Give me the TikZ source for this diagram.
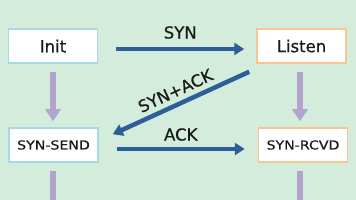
\documentclass[tikz,border=0pt]{standalone}
\usepackage{fontspec}
\setmainfont[FakeBold=0.6,BoldFont={DejaVu Sans}]{DejaVu Sans}
\newfontfamily\widefont[FakeStretch=1.15,FakeBold=0.6]{DejaVu Sans}
\newfontfamily\boldish[FakeBold=0.6]{DejaVu Sans}
\usetikzlibrary{arrows.meta,calc}
\definecolor{bgmint}{HTML}{D4ECDC}
\definecolor{arrblue}{HTML}{2E5E98}
\definecolor{arrpurple}{HTML}{B2A4CC}
\definecolor{bordcyan}{HTML}{A6D8E6}
\definecolor{bordorange}{HTML}{F8C490}
\definecolor{txt}{HTML}{1A1A1A}
\tikzset{
  statebox/.style={draw, fill=white, line width=1.5pt, minimum width=89pt, minimum height=34pt, inner sep=0pt, text=txt},
  cyanbox/.style={statebox, draw=bordcyan},
  orangebox/.style={statebox, draw=bordorange},
  bigtext/.style={font=\boldish\fontsize{16.5}{18}\selectfont},
  smalltext/.style={font=\widefont\fontsize{12.3}{14}\selectfont},
  bluearrow/.style={draw=arrblue, line width=4.5pt, -{Triangle[width=12pt,length=10pt]}},
  purplearrow/.style={draw=arrpurple, line width=6pt, -{Triangle[width=15pt,length=12pt]}},
  purpleline/.style={draw=arrpurple, line width=6pt},
  lbl/.style={font=\boldish\fontsize{16.5}{18}\selectfont, inner sep=0pt, text=txt}
}
\begin{document}
\begin{tikzpicture}[x=1pt,y=1pt]
\fill[bgmint] (0,0) rectangle (356,200);
\useasboundingbox (0,0) rectangle (356,200);
\node[cyanbox, bigtext] (init) at (53,154) {Init};
\node[orangebox, bigtext] (listen) at (301.5,154) {Listen};
\node[cyanbox, smalltext] (synsend) at (53.5,55) {SYN-SEND};
\node[orangebox, smalltext] (synrcvd) at (303,55) {SYN-RCVD};
% vertical arrows
\draw[purplearrow] ($(init.south)+(0,-8)$) -- ($(init.south |- synsend.north)+(0,6)$);
\draw[purplearrow] ($(listen.south)+(-1.5,-8)$) -- ($(listen.south |- synrcvd.north)+(-1.5,6)$);
\coordinate (lbot) at (53,0);
\coordinate (rbot) at (300,0);
\draw[purpleline] ($(synsend.south)+(-0.5,-8)$) -- (lbot);
\draw[purpleline] ($(synrcvd.south)+(-3,-8)$) -- (rbot);
% horizontal and diagonal arrows
\draw[bluearrow] ($(init.east)+(18,-3)$) -- node[lbl, above=8pt] (synl) {SYN} ($(listen.west)+(-12,-3)$);
\draw[bluearrow] ($(listen.south west)+(-7,-8)$) -- node[lbl, rotate=25, above=5pt, anchor=south] (synackl) {SYN+ACK} ($(synsend.north east)+(14,-7)$);
\draw[bluearrow] ($(synsend.east)+(18,-4)$) -- node[lbl, above=6pt] (ackl) {ACK} ($(synrcvd.west)+(-13,-4)$);
\end{tikzpicture}
\end{document}
